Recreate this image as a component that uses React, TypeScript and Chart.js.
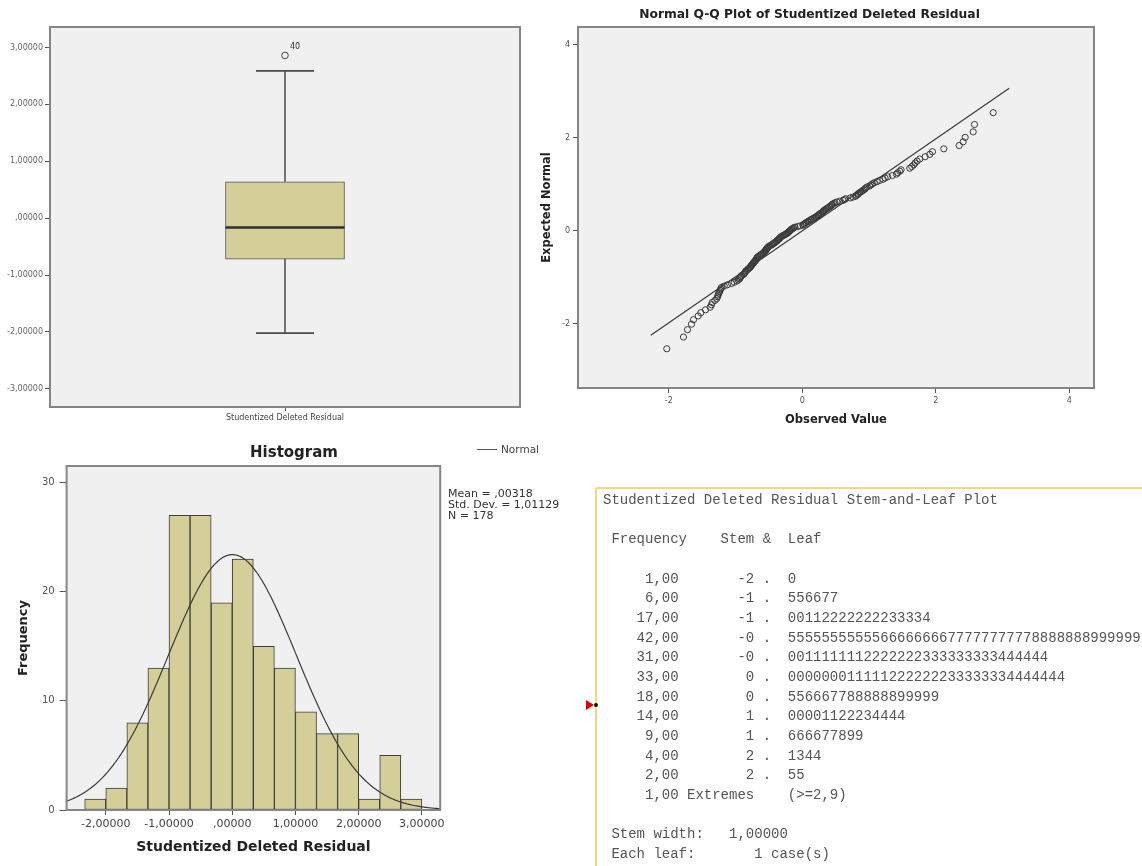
import React, { useEffect, useRef } from 'react';
import { Chart, registerables } from 'chart.js';

Chart.register(...registerables);
Chart.defaults.font.family = "'DejaVu Sans', sans-serif";

// ---------------- data ----------------
// Studentized deleted residuals (N = 178),
// with hundredths estimated from the Q-Q plot and the histogram bins.
const RESIDUALS: number[] = [
  -2.03,
  -1.78, -1.72, -1.66, -1.63, -1.56, -1.52,
  -1.45, -1.38, -1.36, -1.35, -1.31, -1.28, -1.27, -1.26, -1.25, -1.24, -1.23, -1.22, -1.21,
  -1.17, -1.12, -1.06, -1.02,
  -0.98, -0.96, -0.94, -0.93, -0.92, -0.91, -0.88, -0.87, -0.86, -0.85, -0.84, -0.82, -0.81,
  -0.79, -0.78, -0.77, -0.76, -0.75, -0.74, -0.73, -0.72, -0.71, -0.70,
  -0.69, -0.68, -0.68, -0.67, -0.66, -0.64, -0.62, -0.61,
  -0.59, -0.58, -0.57, -0.56, -0.55, -0.54, -0.54, -0.53, -0.52, -0.51, -0.50,
  -0.48, -0.46, -0.45, -0.43, -0.42, -0.41,
  -0.39, -0.38, -0.37, -0.36, -0.35, -0.34, -0.33, -0.32, -0.31,
  -0.29, -0.27, -0.25, -0.24, -0.22, -0.21, -0.20,
  -0.19, -0.18, -0.17, -0.16, -0.14, -0.13, -0.11,
  -0.07, -0.03,
  0.01, 0.02, 0.03, 0.05, 0.06, 0.08, 0.09, 0.11, 0.13, 0.14, 0.16, 0.18,
  0.20, 0.21, 0.23, 0.24, 0.25, 0.27, 0.28, 0.30, 0.31, 0.32, 0.33, 0.35, 0.36, 0.38,
  0.40, 0.41, 0.43, 0.44, 0.45, 0.47, 0.49,
  0.52, 0.56, 0.61, 0.63, 0.65, 0.72, 0.76, 0.80, 0.81, 0.83, 0.84, 0.86, 0.88,
  0.90, 0.92, 0.94, 0.95, 0.97,
  1.01, 1.03, 1.05, 1.08, 1.12, 1.16, 1.21, 1.24, 1.28, 1.35, 1.41, 1.43, 1.46, 1.48,
  1.61, 1.64, 1.67, 1.69, 1.72, 1.76, 1.84, 1.91, 1.95,
  2.12, 2.35, 2.41, 2.44, 2.56, 2.58, 2.86,
];
const RES_MEAN = 0.00318;
const RES_SD = 1.01129;
const RES_N = 178;

// Boxplot
const BOX_LABEL = 'Studentized Deleted Residual';
const BOX_LOWER_WHISKER = -2.02;
const BOX_Q1 = -0.72;
const BOX_MEDIAN = -0.165;
const BOX_Q3 = 0.64;
const BOX_UPPER_WHISKER = 2.59;
const BOX_OUTLIERS = [2.86];
const BOX_OUTLIER_IDS = ['40'];
const BOX_Y_TICKS = [-3, -2, -1, 0, 1, 2, 3];

// Q-Q plot
const QQ_TITLE = 'Normal Q-Q Plot of Studentized Deleted Residual';
const QQ_TICKS = [-2, 0, 2, 4];
const QQ_LINE_X = [-2.27, 3.1];

// Histogram
const HIST_BIN_CENTERS = [-2.1667, -1.8333, -1.5, -1.1667, -0.8333, -0.5, -0.1667, 0.1667,
  0.5, 0.8333, 1.1667, 1.5, 1.8333, 2.1667, 2.5, 2.8333];
const HIST_COUNTS = [1, 2, 8, 13, 27, 27, 19, 23, 15, 13, 9, 7, 7, 1, 5, 1];
const HIST_BIN_WIDTH = 1 / 3;
const HIST_X_TICKS = [-2, -1, 0, 1, 2, 3];
const HIST_Y_TICKS = [0, 10, 20, 30];
const HIST_STATS = ['Mean = ,00318', 'Std. Dev. = 1,01129', 'N = 178'];

// Stem-and-leaf
const STEM_FREQ = ['1,00', '6,00', '17,00', '42,00', '31,00', '33,00', '18,00', '14,00', '9,00', '4,00', '2,00'];
const STEM_STEMS = ['-2', '-1', '-1', '-0', '-0', '0', '0', '1', '1', '2', '2'];
const STEM_LEAVES = [
  '0',
  '556677',
  '00112222222233334',
  '555555555556666666677777777778888888999999',
  '0011111112222222333333333444444',
  '000000011111222222233333334444444',
  '556667788888899999',
  '00001122234444',
  '666677899',
  '1344',
  '55',
];

// ---------------- styles ----------------
const FONT = "'DejaVu Sans', sans-serif";
const PLOT_BG = '#f0f0f0';
const FRAME_COLOR = '#858585';
const KHAKI = '#d4cf98';
const INK = '#333333';
const TICK_INK = '#555555';
const BOX_CENTER = 0.5;
const BOX_HALF = 0.1266;
const CAP_HALF = 0.0617;

// ---------------- helpers ----------------
function spss(v: number): string {
  const s = Math.abs(v).toFixed(5).replace('.', ',');
  const t = s.startsWith('0,') ? s.slice(1) : s;
  return (v < 0 ? '-' : '') + t;
}

function normInv(p: number): number {
  const a = [-3.969683028665376e1, 2.209460984245205e2, -2.759285104469687e2, 1.38357751867269e2, -3.066479806614716e1, 2.506628277459239];
  const b = [-5.447609879822406e1, 1.615858368580409e2, -1.556989798598866e2, 6.680131188771972e1, -1.328068155288572e1];
  const c = [-7.784894002430293e-3, -3.223964580411365e-1, -2.400758277161838, -2.549732539343734, 4.374664141464968, 2.938163982698783];
  const d = [7.784695709041462e-3, 3.224671290700398e-1, 2.445134137142996, 3.754408661907416];
  const pl = 0.02425;
  if (p < pl) {
    const q = Math.sqrt(-2 * Math.log(p));
    return (((((c[0] * q + c[1]) * q + c[2]) * q + c[3]) * q + c[4]) * q + c[5]) / ((((d[0] * q + d[1]) * q + d[2]) * q + d[3]) * q + 1);
  }
  if (p <= 1 - pl) {
    const q = p - 0.5;
    const r = q * q;
    return ((((((a[0] * r + a[1]) * r + a[2]) * r + a[3]) * r + a[4]) * r + a[5]) * q) / (((((b[0] * r + b[1]) * r + b[2]) * r + b[3]) * r + b[4]) * r + 1);
  }
  const q = Math.sqrt(-2 * Math.log(1 - p));
  return -(((((c[0] * q + c[1]) * q + c[2]) * q + c[3]) * q + c[4]) * q + c[5]) / ((((d[0] * q + d[1]) * q + d[2]) * q + d[3]) * q + 1);
}

const fixedTicks = (values: number[]) => (scale: any) => {
  scale.ticks = values.map((v) => ({ value: v }));
};

const framePlugin = {
  id: 'spssFrame',
  beforeDraw(chart: any) {
    const { ctx, chartArea: a } = chart;
    ctx.save();
    ctx.fillStyle = PLOT_BG;
    ctx.fillRect(a.left, a.top, a.right - a.left, a.bottom - a.top);
    ctx.restore();
  },
  afterDraw(chart: any) {
    const { ctx, chartArea: a } = chart;
    ctx.save();
    ctx.strokeStyle = FRAME_COLOR;
    ctx.lineWidth = 2;
    ctx.strokeRect(a.left, a.top, a.right - a.left, a.bottom - a.top);
    ctx.restore();
  },
};

const outlierLabelPlugin = {
  id: 'outlierLabel',
  afterDatasetsDraw(chart: any) {
    const { ctx, scales } = chart;
    const x = scales.x.getPixelForValue(BOX_CENTER);
    ctx.save();
    ctx.font = `8px ${FONT}`;
    ctx.fillStyle = INK;
    ctx.textAlign = 'left';
    ctx.textBaseline = 'middle';
    BOX_OUTLIERS.forEach((v, i) => {
      ctx.fillText(BOX_OUTLIER_IDS[i], x + 5, scales.y.getPixelForValue(v) - 9);
    });
    ctx.restore();
  },
};

const tickGrid = (len: number) => ({
  display: true,
  drawOnChartArea: false,
  drawTicks: true,
  tickLength: len,
  color: TICK_INK,
  offset: false,
});

const noPlugins = { legend: { display: false }, tooltip: { enabled: false } };

// ---------------- chart configs ----------------
function boxConfig(): any {
  const seg = (pts: [number, number][], width: number, color = '#4a4a4a') => ({
    type: 'line',
    data: pts.map(([x, y]) => ({ x, y })),
    borderColor: color,
    borderWidth: width,
    pointRadius: 0,
    order: 1,
  });
  return {
    type: 'bar',
    data: {
      datasets: [
        seg([[BOX_CENTER, BOX_Q3], [BOX_CENTER, BOX_UPPER_WHISKER]], 1.5),
        seg([[BOX_CENTER, BOX_Q1], [BOX_CENTER, BOX_LOWER_WHISKER]], 1.5),
        seg([[BOX_CENTER - CAP_HALF, BOX_UPPER_WHISKER], [BOX_CENTER + CAP_HALF, BOX_UPPER_WHISKER]], 1.8),
        seg([[BOX_CENTER - CAP_HALF, BOX_LOWER_WHISKER], [BOX_CENTER + CAP_HALF, BOX_LOWER_WHISKER]], 1.8),
        { ...seg([[BOX_CENTER - BOX_HALF, BOX_MEDIAN], [BOX_CENTER + BOX_HALF, BOX_MEDIAN]], 2.6, '#2e2e2e'), order: 0 },
        {
          type: 'line',
          showLine: false,
          data: BOX_OUTLIERS.map((y) => ({ x: BOX_CENTER, y })),
          pointRadius: 3.3,
          pointStyle: 'circle',
          pointBorderColor: '#444',
          pointBackgroundColor: 'rgba(0,0,0,0)',
          pointBorderWidth: 1,
          order: 0,
        },
        {
          type: 'bar',
          data: [{ x: BOX_CENTER, y: [BOX_Q1, BOX_Q3] }],
          backgroundColor: KHAKI,
          borderColor: '#555',
          borderWidth: 1,
          borderSkipped: false,
          barThickness: 119,
          order: 2,
        },
      ],
    },
    options: {
      responsive: true,
      maintainAspectRatio: false,
      animation: false,
      layout: { padding: { top: 27, right: 5, left: 0, bottom: 0 } },
      plugins: noPlugins,
      scales: {
        x: {
          type: 'linear',
          min: 0,
          max: 1,
          offset: false,
          afterBuildTicks: fixedTicks([BOX_CENTER]),
          afterFit: (s: any) => { s.height = 29; },
          ticks: { callback: () => BOX_LABEL, font: { family: FONT, size: 8 }, color: '#444', maxRotation: 0, autoSkip: false, padding: 2 },
          grid: tickGrid(4),
          border: { display: false },
        },
        y: {
          type: 'linear',
          min: -3.32,
          max: 3.36,
          beginAtZero: false,
          afterBuildTicks: fixedTicks(BOX_Y_TICKS),
          afterFit: (s: any) => { s.width = 50; },
          ticks: { callback: (v: number) => spss(v), font: { family: FONT, size: 8 }, color: '#666', padding: 2 },
          grid: tickGrid(5),
          border: { display: false },
        },
      },
    },
    plugins: [framePlugin, outlierLabelPlugin],
  };
}

function qqConfig(): any {
  const sorted = [...RESIDUALS].sort((p, q) => p - q);
  const points = sorted.map((x, i) => ({ x, y: normInv((i + 1) / (RES_N + 1)) }));
  const line = QQ_LINE_X.map((x) => ({ x, y: (x - RES_MEAN) / RES_SD }));
  return {
    type: 'scatter',
    data: {
      datasets: [
        {
          type: 'scatter',
          data: points,
          pointRadius: 3.1,
          pointStyle: 'circle',
          pointBorderColor: '#3a3a3a',
          pointBackgroundColor: 'rgba(0,0,0,0)',
          pointBorderWidth: 1,
          order: 0,
        },
        {
          type: 'line',
          data: line,
          borderColor: '#3a3a3a',
          borderWidth: 1.2,
          pointRadius: 0,
          order: 1,
        },
      ],
    },
    options: {
      responsive: true,
      maintainAspectRatio: false,
      animation: false,
      layout: { padding: { top: 0, right: 7, left: 0, bottom: 0 } },
      plugins: {
        ...noPlugins,
        title: {
          display: true,
          text: QQ_TITLE,
          font: { family: FONT, size: 12.3, weight: 'bold' },
          color: '#222',
          padding: { top: 7.6, bottom: 4.6 },
        },
      },
      scales: {
        x: {
          type: 'linear',
          min: -3.36,
          max: 4.37,
          afterBuildTicks: fixedTicks(QQ_TICKS),
          afterFit: (s: any) => { s.height = 48; },
          ticks: { callback: (v: number) => String(v), font: { family: FONT, size: 8 }, color: TICK_INK, maxRotation: 0, autoSkip: false, padding: 3 },
          grid: tickGrid(5),
          border: { display: false },
          title: { display: true, text: 'Observed Value', font: { family: FONT, size: 11.5, weight: 'bold' }, color: '#222', padding: { top: 0, bottom: 9.1 } },
        },
        y: {
          type: 'linear',
          min: -3.38,
          max: 4.38,
          afterBuildTicks: fixedTicks(QQ_TICKS),
          afterFit: (s: any) => { s.width = 53; },
          ticks: { callback: (v: number) => String(v), font: { family: FONT, size: 8 }, color: TICK_INK, padding: 3 },
          grid: tickGrid(5),
          border: { display: false },
          title: { display: true, text: 'Expected Normal', font: { family: FONT, size: 11.5, weight: 'bold' }, color: '#222', padding: { top: 15.1, bottom: 0 } },
        },
      },
    },
    plugins: [framePlugin],
  };
}

function histConfig(): any {
  const xMin = -2.62;
  const xMax = 3.29;
  const curve: { x: number; y: number }[] = [];
  const scaleFactor = RES_N * HIST_BIN_WIDTH;
  for (let k = 0; k <= 300; k++) {
    const x = xMin + ((xMax - xMin) * k) / 300;
    const z = (x - RES_MEAN) / RES_SD;
    curve.push({ x, y: (scaleFactor * Math.exp(-0.5 * z * z)) / (RES_SD * Math.sqrt(2 * Math.PI)) });
  }
  return {
    type: 'bar',
    data: {
      datasets: [
        {
          type: 'line',
          data: curve,
          borderColor: '#3a3a3a',
          borderWidth: 1.2,
          pointRadius: 0,
          order: 0,
        },
        {
          type: 'bar',
          data: HIST_BIN_CENTERS.map((x, i) => ({ x, y: HIST_COUNTS[i] })),
          backgroundColor: KHAKI,
          borderColor: '#3c3c3c',
          borderWidth: 1,
          borderSkipped: false,
          barPercentage: 1,
          categoryPercentage: 1,
          order: 1,
        },
      ],
    },
    options: {
      responsive: true,
      maintainAspectRatio: false,
      animation: false,
      layout: { padding: { top: 0, right: 0, left: 0, bottom: 0 } },
      plugins: {
        ...noPlugins,
        title: {
          display: true,
          text: 'Histogram',
          font: { family: FONT, size: 15, weight: 'bold' },
          color: '#222',
          padding: { top: 8, bottom: 4 },
        },
      },
      scales: {
        x: {
          type: 'linear',
          min: xMin,
          max: xMax,
          offset: false,
          afterBuildTicks: fixedTicks(HIST_X_TICKS),
          afterFit: (s: any) => { s.height = 56; },
          ticks: { callback: (v: number) => spss(v), font: { family: FONT, size: 11 }, color: '#444', maxRotation: 0, autoSkip: false, padding: 3 },
          grid: tickGrid(5),
          border: { display: false },
          title: { display: true, text: 'Studentized Deleted Residual', font: { family: FONT, size: 14, weight: 'bold' }, color: '#222', padding: { top: 0, bottom: 10.3 } },
        },
        y: {
          type: 'linear',
          min: 0,
          max: 31.53,
          afterBuildTicks: fixedTicks(HIST_Y_TICKS),
          afterFit: (s: any) => { s.width = 66.6; },
          ticks: { callback: (v: number) => String(v), font: { family: FONT, size: 10 }, color: '#555', padding: 5 },
          grid: tickGrid(7),
          border: { display: false },
          title: { display: true, text: 'Frequency', font: { family: FONT, size: 13, weight: 'bold' }, color: '#222', padding: { top: 16.2, bottom: 0 } },
        },
        // empty right-hand gutter that holds the legend / statistics area
        gutter: {
          type: 'linear',
          position: 'right',
          display: true,
          afterFit: (s: any) => { s.width = 147.8; },
          ticks: { display: false },
          grid: { display: false },
          border: { display: false },
        },
      },
    },
    plugins: [framePlugin],
  };
}

// ---------------- components ----------------
type Geo = { left: number; top: number; width: number; height: number };

function ChartPanel({ geo, make }: { geo: Geo; make: () => any }) {
  const ref = useRef<HTMLCanvasElement | null>(null);
  useEffect(() => {
    if (!ref.current) return;
    const chart = new Chart(ref.current, make());
    return () => chart.destroy();
  }, []);
  return (
    <div style={{ position: 'absolute', left: geo.left, top: geo.top, width: geo.width, height: geo.height }}>
      <canvas ref={ref} />
    </div>
  );
}

function stemLines(): string {
  const rows = STEM_FREQ.map((f, i) => f.padStart(9) + STEM_STEMS[i].padStart(9) + ' .  ' + STEM_LEAVES[i]);
  return [
    'Studentized Deleted Residual Stem-and-Leaf Plot',
    '',
    ' Frequency    Stem &  Leaf',
    '',
    ...rows,
    '     1,00 Extremes    (>=2,9)',
    '',
    ' Stem width:   1,00000',
    ' Each leaf:       1 case(s)',
  ].join('\n');
}

export default function App() {
  return (
    <div style={{ position: 'absolute', left: 0, top: 0, width: 1142, height: 866, background: '#fff', overflow: 'hidden' }}>
      <ChartPanel geo={{ left: 0, top: 0, width: 525, height: 436 }} make={boxConfig} />
      <ChartPanel geo={{ left: 525, top: 0, width: 576, height: 436 }} make={qqConfig} />
      <ChartPanel geo={{ left: 0, top: 436, width: 588, height: 430 }} make={histConfig} />

      {/* histogram legend and statistics */}
      <div style={{ position: 'absolute', left: 477, top: 448.5, width: 20, height: 1, background: '#555' }} />
      <div style={{ position: 'absolute', left: 501, top: 442.5, font: `10.5px ${FONT}`, lineHeight: '13px', color: '#444', whiteSpace: 'nowrap' }}>
        Normal
      </div>
      <div style={{ position: 'absolute', left: 448, top: 487.5, font: `11px ${FONT}`, lineHeight: '11px', color: '#333', whiteSpace: 'pre' }}>
        {HIST_STATS.join('\n')}
      </div>

      {/* stem-and-leaf output panel */}
      <div
        style={{
          position: 'absolute',
          left: 595,
          top: 487,
          width: 600,
          height: 420,
          borderLeft: '2px solid #f6d67c',
          borderTop: '2px solid #f6d67c',
          borderTopLeftRadius: 3,
          boxSizing: 'border-box',
        }}
      />
      <pre
        style={{
          position: 'absolute',
          left: 603,
          top: 491,
          margin: 0,
          fontFamily: "'Liberation Mono', monospace",
          fontSize: 14,
          lineHeight: '19.65px',
          color: '#555',
          whiteSpace: 'pre',
        }}
      >
        {stemLines()}
      </pre>
      <div
        style={{
          position: 'absolute',
          left: 586,
          top: 700,
          width: 0,
          height: 0,
          borderTop: '5px solid transparent',
          borderBottom: '5px solid transparent',
          borderLeft: '8px solid #e00000',
        }}
      />
      <div style={{ position: 'absolute', left: 594, top: 703, width: 4, height: 4, borderRadius: 2, background: '#111' }} />
    </div>
  );
}
